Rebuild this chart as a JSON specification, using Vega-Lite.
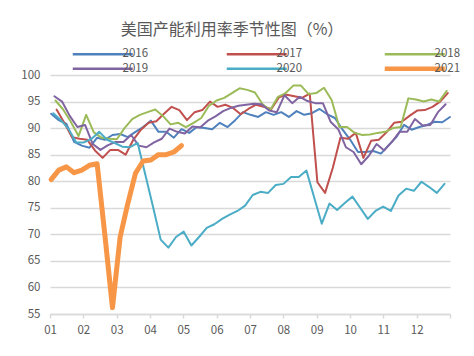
{
  "$schema": "https://vega.github.io/schema/vega-lite/v6.json",
  "autosize": "none",
  "width": 400,
  "height": 239,
  "padding": {"left": 50, "top": 75, "right": 24, "bottom": 42},
  "background": "white",
  "config": {
    "font": "Noto Sans CJK SC",
    "view": {"stroke": null}
  },
  "title": {
    "text": "美国产能利用率季节性图（%）",
    "fontSize": 16,
    "fontWeight": "normal",
    "color": "#595959",
    "anchor": "middle",
    "dx": -18,
    "offset": 10
  },
  "data": {"values": [
    {"s":"2016","d":1,"v":92.7},{"s":"2016","d":8,"v":91.5},{"s":"2016","d":15,"v":90.8},{"s":"2016","d":22,"v":87.4},{"s":"2016","d":29,"v":86.7},{"s":"2016","d":36,"v":86.3},{"s":"2016","d":43,"v":88.2},{"s":"2016","d":50,"v":87.8},{"s":"2016","d":57,"v":88.7},{"s":"2016","d":64,"v":88.9},{"s":"2016","d":71,"v":88.3},{"s":"2016","d":78,"v":89.3},{"s":"2016","d":85,"v":90.2},{"s":"2016","d":92,"v":91.4},{"s":"2016","d":99,"v":89.3},{"s":"2016","d":106,"v":89.3},{"s":"2016","d":113,"v":88.2},{"s":"2016","d":120,"v":89.8},{"s":"2016","d":127,"v":89.1},{"s":"2016","d":134,"v":90.2},{"s":"2016","d":141,"v":90.0},{"s":"2016","d":148,"v":89.8},{"s":"2016","d":155,"v":91.0},{"s":"2016","d":162,"v":90.2},{"s":"2016","d":169,"v":91.5},{"s":"2016","d":176,"v":93.0},{"s":"2016","d":183,"v":92.5},{"s":"2016","d":190,"v":92.1},{"s":"2016","d":197,"v":93.0},{"s":"2016","d":204,"v":92.5},{"s":"2016","d":211,"v":93.0},{"s":"2016","d":218,"v":92.1},{"s":"2016","d":225,"v":93.2},{"s":"2016","d":232,"v":92.5},{"s":"2016","d":239,"v":92.8},{"s":"2016","d":246,"v":93.6},{"s":"2016","d":253,"v":92.6},{"s":"2016","d":260,"v":91.9},{"s":"2016","d":267,"v":89.7},{"s":"2016","d":274,"v":87.8},{"s":"2016","d":281,"v":85.5},{"s":"2016","d":288,"v":85.5},{"s":"2016","d":295,"v":85.7},{"s":"2016","d":302,"v":85.2},{"s":"2016","d":309,"v":86.8},{"s":"2016","d":316,"v":88.3},{"s":"2016","d":323,"v":90.6},{"s":"2016","d":330,"v":89.7},{"s":"2016","d":337,"v":90.2},{"s":"2016","d":344,"v":90.6},{"s":"2016","d":351,"v":91.2},{"s":"2016","d":358,"v":91.1},{"s":"2016","d":365,"v":92.1},
    {"s":"2017","d":6,"v":93.5},{"s":"2017","d":13,"v":91.0},{"s":"2017","d":20,"v":88.3},{"s":"2017","d":27,"v":88.0},{"s":"2017","d":34,"v":87.8},{"s":"2017","d":41,"v":85.8},{"s":"2017","d":48,"v":84.4},{"s":"2017","d":55,"v":85.9},{"s":"2017","d":62,"v":85.9},{"s":"2017","d":69,"v":85.0},{"s":"2017","d":76,"v":87.8},{"s":"2017","d":83,"v":89.7},{"s":"2017","d":90,"v":91.0},{"s":"2017","d":97,"v":91.3},{"s":"2017","d":104,"v":92.7},{"s":"2017","d":111,"v":94.0},{"s":"2017","d":118,"v":93.4},{"s":"2017","d":125,"v":91.5},{"s":"2017","d":132,"v":93.0},{"s":"2017","d":139,"v":93.4},{"s":"2017","d":146,"v":95.0},{"s":"2017","d":153,"v":94.0},{"s":"2017","d":160,"v":94.4},{"s":"2017","d":167,"v":93.8},{"s":"2017","d":174,"v":92.6},{"s":"2017","d":181,"v":93.6},{"s":"2017","d":188,"v":94.4},{"s":"2017","d":195,"v":94.0},{"s":"2017","d":202,"v":93.6},{"s":"2017","d":209,"v":95.8},{"s":"2017","d":216,"v":96.3},{"s":"2017","d":223,"v":96.0},{"s":"2017","d":230,"v":95.7},{"s":"2017","d":237,"v":96.5},{"s":"2017","d":244,"v":79.8},{"s":"2017","d":251,"v":77.8},{"s":"2017","d":258,"v":82.5},{"s":"2017","d":265,"v":88.2},{"s":"2017","d":272,"v":88.0},{"s":"2017","d":279,"v":89.1},{"s":"2017","d":286,"v":84.4},{"s":"2017","d":293,"v":87.6},{"s":"2017","d":300,"v":87.8},{"s":"2017","d":307,"v":89.2},{"s":"2017","d":314,"v":91.0},{"s":"2017","d":321,"v":91.2},{"s":"2017","d":328,"v":92.3},{"s":"2017","d":335,"v":93.3},{"s":"2017","d":342,"v":93.4},{"s":"2017","d":349,"v":94.0},{"s":"2017","d":356,"v":95.0},{"s":"2017","d":363,"v":96.6},
    {"s":"2018","d":5,"v":95.2},{"s":"2018","d":12,"v":93.5},{"s":"2018","d":19,"v":91.2},{"s":"2018","d":26,"v":88.5},{"s":"2018","d":33,"v":92.5},{"s":"2018","d":40,"v":89.2},{"s":"2018","d":47,"v":88.2},{"s":"2018","d":54,"v":88.0},{"s":"2018","d":61,"v":87.9},{"s":"2018","d":68,"v":90.0},{"s":"2018","d":75,"v":91.7},{"s":"2018","d":82,"v":92.5},{"s":"2018","d":89,"v":93.0},{"s":"2018","d":96,"v":93.5},{"s":"2018","d":103,"v":92.3},{"s":"2018","d":110,"v":90.7},{"s":"2018","d":117,"v":91.0},{"s":"2018","d":124,"v":90.2},{"s":"2018","d":131,"v":91.0},{"s":"2018","d":138,"v":91.9},{"s":"2018","d":145,"v":94.2},{"s":"2018","d":152,"v":95.2},{"s":"2018","d":159,"v":95.7},{"s":"2018","d":166,"v":96.6},{"s":"2018","d":173,"v":97.5},{"s":"2018","d":180,"v":97.2},{"s":"2018","d":187,"v":96.7},{"s":"2018","d":194,"v":94.5},{"s":"2018","d":201,"v":93.4},{"s":"2018","d":208,"v":95.9},{"s":"2018","d":215,"v":96.6},{"s":"2018","d":222,"v":98.0},{"s":"2018","d":229,"v":98.0},{"s":"2018","d":236,"v":96.4},{"s":"2018","d":243,"v":96.6},{"s":"2018","d":250,"v":97.6},{"s":"2018","d":257,"v":95.3},{"s":"2018","d":264,"v":90.2},{"s":"2018","d":271,"v":90.2},{"s":"2018","d":278,"v":89.1},{"s":"2018","d":285,"v":88.7},{"s":"2018","d":292,"v":88.8},{"s":"2018","d":299,"v":89.1},{"s":"2018","d":306,"v":89.3},{"s":"2018","d":313,"v":90.0},{"s":"2018","d":320,"v":90.2},{"s":"2018","d":327,"v":95.6},{"s":"2018","d":334,"v":95.4},{"s":"2018","d":341,"v":95.0},{"s":"2018","d":348,"v":95.4},{"s":"2018","d":355,"v":95.0},{"s":"2018","d":362,"v":97.0},
    {"s":"2019","d":4,"v":96.0},{"s":"2019","d":11,"v":95.0},{"s":"2019","d":18,"v":92.3},{"s":"2019","d":25,"v":90.2},{"s":"2019","d":32,"v":90.6},{"s":"2019","d":39,"v":87.0},{"s":"2019","d":46,"v":85.9},{"s":"2019","d":53,"v":86.8},{"s":"2019","d":60,"v":87.4},{"s":"2019","d":67,"v":87.4},{"s":"2019","d":74,"v":88.7},{"s":"2019","d":81,"v":86.7},{"s":"2019","d":88,"v":86.4},{"s":"2019","d":95,"v":87.3},{"s":"2019","d":102,"v":88.0},{"s":"2019","d":109,"v":89.9},{"s":"2019","d":116,"v":89.3},{"s":"2019","d":123,"v":89.0},{"s":"2019","d":130,"v":90.3},{"s":"2019","d":137,"v":90.1},{"s":"2019","d":144,"v":91.4},{"s":"2019","d":151,"v":92.2},{"s":"2019","d":158,"v":93.2},{"s":"2019","d":165,"v":93.8},{"s":"2019","d":172,"v":94.2},{"s":"2019","d":179,"v":94.4},{"s":"2019","d":186,"v":94.6},{"s":"2019","d":193,"v":94.5},{"s":"2019","d":200,"v":93.3},{"s":"2019","d":207,"v":93.0},{"s":"2019","d":214,"v":96.2},{"s":"2019","d":221,"v":94.7},{"s":"2019","d":228,"v":95.9},{"s":"2019","d":235,"v":95.1},{"s":"2019","d":242,"v":94.7},{"s":"2019","d":249,"v":94.7},{"s":"2019","d":256,"v":91.2},{"s":"2019","d":263,"v":89.8},{"s":"2019","d":270,"v":86.4},{"s":"2019","d":277,"v":85.5},{"s":"2019","d":284,"v":83.2},{"s":"2019","d":291,"v":84.8},{"s":"2019","d":298,"v":87.0},{"s":"2019","d":305,"v":85.8},{"s":"2019","d":312,"v":87.4},{"s":"2019","d":319,"v":89.3},{"s":"2019","d":326,"v":89.3},{"s":"2019","d":333,"v":91.7},{"s":"2019","d":340,"v":90.5},{"s":"2019","d":347,"v":90.6},{"s":"2019","d":354,"v":93.0},{"s":"2019","d":361,"v":94.5},
    {"s":"2020","d":3,"v":92.8},{"s":"2020","d":10,"v":91.5},{"s":"2020","d":17,"v":89.8},{"s":"2020","d":24,"v":87.3},{"s":"2020","d":31,"v":87.3},{"s":"2020","d":38,"v":88.0},{"s":"2020","d":45,"v":89.3},{"s":"2020","d":52,"v":87.8},{"s":"2020","d":59,"v":87.2},{"s":"2020","d":66,"v":86.5},{"s":"2020","d":73,"v":86.4},{"s":"2020","d":80,"v":87.2},{"s":"2020","d":87,"v":81.2},{"s":"2020","d":94,"v":75.2},{"s":"2020","d":101,"v":69.0},{"s":"2020","d":108,"v":67.5},{"s":"2020","d":115,"v":69.5},{"s":"2020","d":122,"v":70.5},{"s":"2020","d":129,"v":67.9},{"s":"2020","d":136,"v":69.5},{"s":"2020","d":143,"v":71.2},{"s":"2020","d":150,"v":71.9},{"s":"2020","d":157,"v":72.9},{"s":"2020","d":164,"v":73.7},{"s":"2020","d":171,"v":74.4},{"s":"2020","d":178,"v":75.4},{"s":"2020","d":185,"v":77.4},{"s":"2020","d":192,"v":78.0},{"s":"2020","d":199,"v":77.8},{"s":"2020","d":206,"v":79.3},{"s":"2020","d":213,"v":79.5},{"s":"2020","d":220,"v":80.8},{"s":"2020","d":227,"v":80.8},{"s":"2020","d":234,"v":82.0},{"s":"2020","d":241,"v":77.0},{"s":"2020","d":248,"v":72.0},{"s":"2020","d":255,"v":75.8},{"s":"2020","d":262,"v":74.6},{"s":"2020","d":269,"v":75.9},{"s":"2020","d":276,"v":77.1},{"s":"2020","d":283,"v":75.0},{"s":"2020","d":290,"v":72.9},{"s":"2020","d":297,"v":74.4},{"s":"2020","d":304,"v":75.2},{"s":"2020","d":311,"v":74.4},{"s":"2020","d":318,"v":77.3},{"s":"2020","d":325,"v":78.6},{"s":"2020","d":332,"v":78.2},{"s":"2020","d":339,"v":79.9},{"s":"2020","d":346,"v":78.9},{"s":"2020","d":353,"v":77.8},{"s":"2020","d":360,"v":79.5},
    {"s":"2021","d":1,"v":80.3},{"s":"2021","d":8,"v":82.1},{"s":"2021","d":15,"v":82.7},{"s":"2021","d":22,"v":81.6},{"s":"2021","d":29,"v":82.1},{"s":"2021","d":36,"v":83.0},{"s":"2021","d":43,"v":83.3},{"s":"2021","d":50,"v":70.0},{"s":"2021","d":57,"v":56.2},{"s":"2021","d":64,"v":69.5},{"s":"2021","d":71,"v":75.8},{"s":"2021","d":78,"v":81.5},{"s":"2021","d":85,"v":83.8},{"s":"2021","d":92,"v":84.0},{"s":"2021","d":99,"v":85.0},{"s":"2021","d":106,"v":85.0},{"s":"2021","d":113,"v":85.5},{"s":"2021","d":120,"v":86.7}
  ]},
  "mark": {"type": "line", "strokeJoin": "round", "strokeCap": "round"},
  "encoding": {
    "x": {
      "field": "d", "type": "quantitative",
      "scale": {"domain": [0, 365], "nice": false, "zero": false},
      "axis": {
        "title": null,
        "values": [0, 30.4167, 60.8333, 91.25, 121.6667, 152.0833, 182.5, 212.9167, 243.3333, 273.75, 304.1667, 334.5833, 365],
        "labelExpr": "datum.value > 360 ? '' : (floor(datum.value / 30.4) + 1 < 10 ? '0' : '') + (floor(datum.value / 30.4) + 1)",
        "grid": false,
        "domainColor": "#D9D9D9",
        "domainWidth": 1.5,
        "tickColor": "#D9D9D9",
        "tickWidth": 1.5,
        "tickSize": 4,
        "labelPadding": 6,
        "labelFontSize": 11.5,
        "labelColor": "#595959",
        "labelFlush": false,
        "labelOverlap": false
      }
    },
    "y": {
      "field": "v", "type": "quantitative",
      "scale": {"domain": [55, 100], "nice": false, "zero": false},
      "axis": {
        "title": null,
        "values": [55, 60, 65, 70, 75, 80, 85, 90, 95, 100],
        "domain": false,
        "ticks": false,
        "tickSize": 0,
        "labelPadding": 10,
        "gridColor": "#D9D9D9",
        "gridWidth": 1.5,
        "labelFontSize": 11.5,
        "labelColor": "#595959"
      }
    },
    "color": {
      "field": "s", "type": "nominal",
      "scale": {
        "domain": ["2016", "2017", "2018", "2019", "2020", "2021"],
        "range": ["#4F81BD", "#C0504D", "#9BBB59", "#8064A2", "#4BACC6", "#F79646"]
      },
      "legend": {
        "title": null,
        "orient": "none",
        "legendX": 47,
        "legendY": -27,
        "direction": "horizontal",
        "columns": 3,
        "columnPadding": 72,
        "rowPadding": -1,
        "padding": 0,
        "symbolType": "M-1,0H1",
        "symbolSize": 3600,
        "symbolStrokeWidth": 2.5,
        "labelOffset": 14,
        "labelFontSize": 11.5,
        "labelColor": "#595959",
        "encode": {
          "symbols": {"update": {"strokeWidth": {"signal": "datum.value === '2021' ? 4.5 : 2.5"}}}
        }
      }
    },
    "strokeWidth": {
      "condition": {"test": "datum.s === '2021'", "value": 5},
      "value": 2
    }
  }
}
